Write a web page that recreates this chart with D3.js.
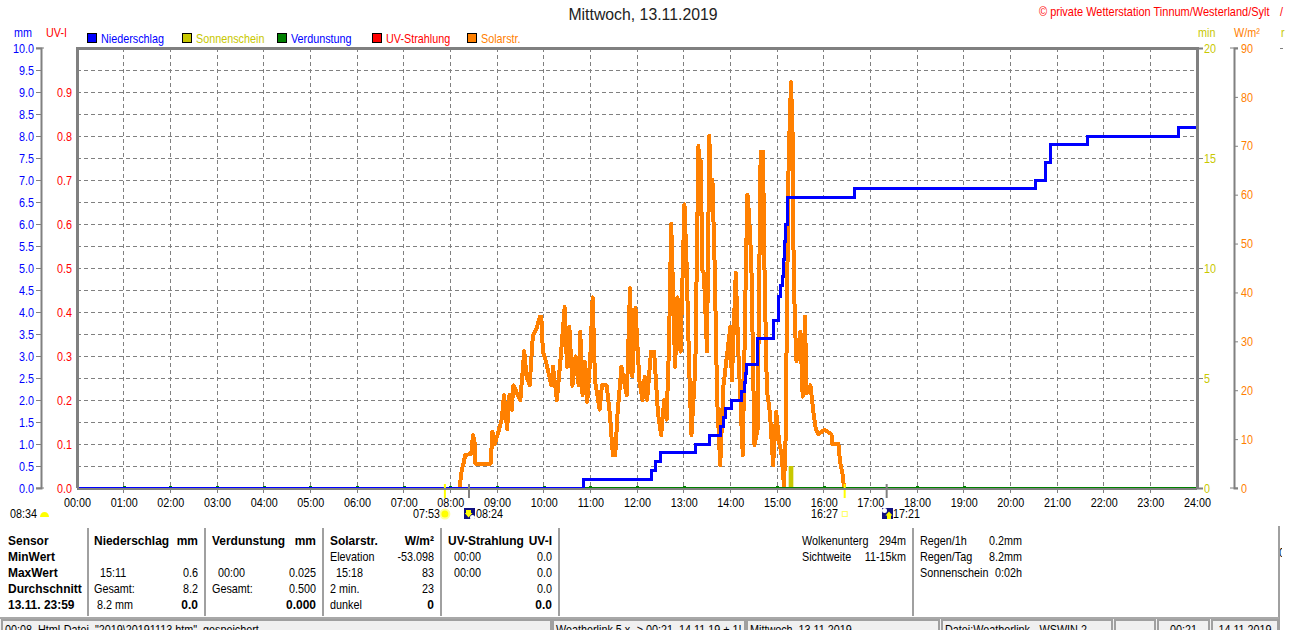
<!DOCTYPE html>
<html>
<head>
<meta charset="utf-8">
<script src="https://cdn.jsdelivr.net/npm/d3@7"></script>
<style>
  html, body { margin: 0; padding: 0; background: #fff; overflow: hidden; }
  svg { display: block; }
  text { font-family: "Liberation Sans", Arial, sans-serif; font-size: 13px; white-space: pre; }
  .axis path, .axis line { stroke: #808080; }
  .axis path { stroke-width: 2; }
  .axis text { font-size: 13px; }
</style>
</head>
<body>
<svg id="chart" width="1310" height="630"></svg>
<script>
// minutes since midnight / W per m2
const solarTimes = [492,493,495,497,499,507,509,511,512,532,534,537,541,546,549,553,556,559,561,570,575,578,582,586,591,595,597,599,603,607,610,612,617,622,627,630,633,637,641,645,647,650,653,656,660,663,666,672,675,681,685,689,692,695,700,703,707,711,714,718,723,727,730,733,738,742,744,747,751,755,758,761,764,769,772,776,781,784,787,790,795,799,801,802,804,806,810,813,815,817,820,823,827,831,834,840,842,847,850,856,860,862,864,867,871,875,879,882,884,887,891,895,899,903,906,909,911,915,918,920,921,923,925,930,933,936,938,943,947,950,953,961,970,971,979,981,985,986];
const solarValues = [0,1.6,4,5,6.7,7,10.8,9.8,5,5,11.5,9,11,14,19,12,19,16,21,18,28,22.8,21,31,32.7,35,35,28,25.8,23,21,24.8,18,26.9,37,24.8,33,20.9,26.9,21,32,19,25.8,17.6,26.9,39,22,16,21,21,15.3,6.7,6.7,15.3,24.8,22,19,40.9,22.8,36.8,22,18,22.8,18,27.9,27.9,22.8,15.3,10.8,18,14,28.2,54,24.8,39,27.9,58,44.6,25,10.8,24.8,70,56,67,44.6,44,28,72,58,63,44.6,18.4,4.7,20.7,24.8,33,22,44,29,6.7,45,60,56,46.3,8.8,11.9,68.8,68.8,44,20,15.3,4.7,15.6,9.2,6.7,0.3,9.8,67.5,83,72.6,50.7,33.7,26,32,18.7,35,19.4,21,15.3,11.9,11,11.9,11,9,9,5.4,2.3,0];

const rainTimes = [0,651,738,744,750,795,813,827,831,834,841,854,858,859,861,875,895,902,904,907,908,909,911,913,1000,1232,1245,1251,1299,1416,1440];
const rainValues = [0,0.2,0.4,0.6,0.8,1.0,1.2,1.4,1.6,1.8,2.0,2.2,2.4,2.6,2.8,3.4,3.8,4.35,4.6,4.8,5.2,5.6,6.0,6.6,6.8,7.0,7.4,7.8,8.0,8.2,8.2];

const evapHours = [1,2,3,4,5,6,7,8,9,10,11,12,13,15,16,18,19];
const evapValue = 0.025;

const sunshineTimes = [915,921];
const sunshineValue = 1;

const sunMarks = [473,987];
const moonMarks = [504,1041];

const legendLabels = ["Niederschlag","Sonnenschein","Verdunstung","UV-Strahlung","Solarstr."];
const legendFill = ["#0000ff","#c8c800","#008000","#ff0000","#ff8000"];
const legendText = ["#0000ff","#c8c800","#0000ff","#ff0000","#ff8000"];

const rowLabels = ["Sensor","MinWert","MaxWert","Durchschnitt","13.11. 23:59"];
const rainNames = ["Niederschlag","","15:11","Gesamt:","8.2 mm"];
const rainCells = ["mm","","0.6","8.2","0.0"];
const evapNames = ["Verdunstung","","00:00","Gesamt:",""];
const evapCells = ["mm","","0.025","0.500","0.000"];
const solarNames = ["Solarstr.","Elevation","15:18","2 min.","dunkel"];
const solarCells = ["W/m²","-53.098","83","23","0"];
const uvNames = ["UV-Strahlung","00:00","00:00","",""];
const uvCells = ["UV-I","0.0","0.0","0.0","0.0"];
const skyNames = ["Wolkenunterg","Sichtweite"];
const skyCells = ["294m","11-15km"];
const dayNames = ["Regen/1h","Regen/Tag","Sonnenschein"];
const dayCells = ["0.2mm","8.2mm","0:02h"];

const statusTexts = ['00:08  Html-Datei  "2019\\20191113.htm"  gespeichert',"Weatherlink 5.x -> 00:21. 14.11.19 + 1!","Mittwoch, 13.11.2019","Datei:Weatherlink - WSWIN 2","","00:21","14.11.2019"];

const plotLeft = 77, plotRight = 1197, plotTop = 48, plotBottom = 488;
const svg = d3.select("#chart");

const x = d3.scaleLinear().domain([0, 1440]).range([plotLeft, plotRight]);
const yMm = d3.scaleLinear().domain([0, 10]).range([plotBottom, plotTop]);
const yUv = d3.scaleLinear().domain([0, 1]).range([plotBottom, plotTop]);
const yMin = d3.scaleLinear().domain([0, 20]).range([plotBottom, plotTop]);
const yW = d3.scaleLinear().domain([0, 90]).range([plotBottom, plotTop]);

const hours = d3.range(0, 25);
const hourFormat = d3.format("02");

const defs = svg.append("defs");
defs.append("clipPath").attr("id", "plot")
  .append("rect").attr("x", plotLeft).attr("y", plotTop).attr("width", plotRight - plotLeft).attr("height", plotBottom - plotTop);
defs.append("clipPath").attr("id", "edge")
  .append("rect").attr("x", 1280).attr("y", 540).attr("width", 2).attr("height", 20);

// title
svg.append("text").attr("x", 643).attr("y", 20).attr("text-anchor", "middle").attr("data-sq", 0.93)
  .style("font-size", "17px").attr("fill", "#222").text("Mittwoch, 13.11.2019");
svg.append("text").attr("x", 1039).attr("y", 16).attr("fill", "#ff0000").attr("data-sq", 0.845)
  .text("© private Wetterstation Tinnum/Westerland/Sylt");
svg.append("text").attr("x", 1280).attr("y", 16).attr("fill", "#ff0000").text("/");

// unit labels
[["mm", 14, "#0000ff"], ["UV-I", 46, "#ff0000"], ["min", 1198, "#c8c800"], ["W/m²", 1234, "#ff8000"], ["r", 1281, "#c8c800"]].forEach(d => {
  svg.append("text").attr("x", d[1]).attr("y", 37).attr("fill", d[2]).text(d[0]);
});

// legend
const legendGroups = svg.selectAll("g.legend").data(legendLabels).enter().append("g")
  .attr("class", "legend")
  .attr("transform", (d, i) => "translate(" + (87.5 + i * 95) + ",33.5)");
legendGroups.append("rect").attr("width", 9).attr("height", 9)
  .attr("fill", (d, i) => legendFill[i]).attr("stroke", "#000").attr("shape-rendering", "crispEdges");
legendGroups.append("text").attr("x", 13.5).attr("y", 9).attr("fill", (d, i) => legendText[i]).text(d => d);

// grid
svg.append("g").selectAll("line").data(d3.range(0.5, 10, 0.5)).enter().append("line")
  .attr("x1", plotLeft).attr("x2", plotRight).attr("y1", d => yMm(d)).attr("y2", d => yMm(d))
  .attr("stroke", "#808080").attr("stroke-dasharray", "4,3").attr("shape-rendering", "crispEdges");
svg.append("g").selectAll("line").data(hours.slice(1, 24)).enter().append("line")
  .attr("x1", d => x(d * 60)).attr("x2", d => x(d * 60)).attr("y1", plotTop).attr("y2", plotBottom + 5)
  .attr("stroke", "#808080").attr("stroke-dasharray", "4,3").attr("shape-rendering", "crispEdges");

// series
const marks = svg.append("g").attr("clip-path", "url(#plot)");

const solarLine = d3.line().x(d => x(d)).y((d, i) => yW(solarValues[i]));
marks.append("path").attr("d", solarLine(solarTimes)).attr("fill", "none")
  .attr("stroke", "#ff8000").attr("stroke-width", 4).attr("stroke-linejoin", "round")
  .attr("shape-rendering", "crispEdges");

marks.append("rect").attr("x", x(sunshineTimes[0])).attr("y", yMin(sunshineValue))
  .attr("width", x(sunshineTimes[1]) - x(sunshineTimes[0])).attr("height", yMin(0) - yMin(sunshineValue))
  .attr("fill", "#c8c800");

marks.append("line").attr("x1", plotLeft).attr("x2", plotRight).attr("y1", yMm(0) - 0.5).attr("y2", yMm(0) - 0.5)
  .attr("stroke", "#008000").attr("stroke-width", 1);
marks.selectAll("rect.evap").data(evapHours).enter().append("rect").attr("class", "evap")
  .attr("x", d => x(d * 60) - 1).attr("y", yMm(evapValue) - 1).attr("width", 3).attr("height", 3)
  .attr("fill", "#008000").attr("shape-rendering", "crispEdges");

const rainLine = d3.line().curve(d3.curveStepAfter).x(d => x(d)).y((d, i) => yMm(rainValues[i]));
marks.append("path").attr("d", rainLine(rainTimes)).attr("fill", "none")
  .attr("stroke", "#0000ff").attr("stroke-width", 3).attr("shape-rendering", "crispEdges");

// sun and moon time bars
svg.selectAll("rect.sunbar").data(sunMarks).enter().append("rect").attr("class", "sunbar")
  .attr("x", d => x(d) - 1).attr("y", 484).attr("width", 2).attr("height", 14).attr("fill", "#ffff00");
svg.selectAll("rect.moonbar").data(moonMarks).enter().append("rect").attr("class", "moonbar")
  .attr("x", d => x(d) - 1).attr("y", 484).attr("width", 2).attr("height", 14).attr("fill", "#808080");

// plot frame
svg.append("path").attr("d", "M" + plotLeft + "," + plotBottom + "V" + plotTop + "H" + plotRight + "V" + plotBottom)
  .attr("fill", "none").attr("stroke", "#808080").attr("stroke-width", 3).attr("shape-rendering", "crispEdges");
svg.append("line").attr("x1", plotLeft).attr("x2", plotRight).attr("y1", plotBottom + 1).attr("y2", plotBottom + 1)
  .attr("stroke", "#808080").attr("stroke-width", 2).attr("shape-rendering", "crispEdges");

// axes
svg.append("g").attr("class", "axis").attr("transform", "translate(41,0)").attr("color", "#0000ff")
  .call(d3.axisLeft(yMm).tickValues(d3.range(0, 10.5, 0.5)).tickFormat(d3.format(".1f")).tickSize(5).tickPadding(2));
svg.append("g").attr("class", "axis uv").attr("transform", "translate(" + (plotLeft - 5) + ",0)").attr("color", "#ff0000")
  .call(d3.axisLeft(yUv).tickValues(d3.range(0, 1, 0.1)).tickFormat(d3.format(".1f")).tickSize(0).tickPadding(0));
svg.select(".uv path").remove();
svg.append("g").attr("class", "axis").attr("transform", "translate(" + plotRight + ",0)").attr("color", "#c8c800")
  .call(d3.axisRight(yMin).tickValues([0, 5, 10, 15, 20]).tickSize(6).tickPadding(1));
svg.append("g").attr("class", "axis").attr("transform", "translate(1234,0)").attr("color", "#ff8000")
  .call(d3.axisRight(yW).tickValues(d3.range(0, 100, 10)).tickSize(4).tickPadding(3));
[[36, 44], [1230, 1238]].forEach(d => {
  [plotTop, plotBottom].forEach(y => {
    svg.append("line").attr("x1", d[0]).attr("x2", d[1]).attr("y1", y).attr("y2", y).attr("stroke", "#808080");
  });
});
svg.append("g").attr("class", "axis").attr("transform", "translate(0," + (plotBottom + 6) + ")")
  .call(d3.axisBottom(x).tickValues(hours.map(d => d * 60)).tickSize(0).tickPadding(4)
    .tickFormat(d => hourFormat(d / 60) + ":00"))
  .call(g => g.select("path").remove())
  .selectAll("text").attr("fill", "#000");

// sun and moon captions
const captions = [["08:34", 10, "start"], ["07:53", 440, "end"], ["08:24", 476, "start"], ["16:27", 838, "end"], ["17:21", 893, "start"]];
svg.selectAll("text.cap").data(captions).enter().append("text").attr("class", "cap")
  .attr("x", d => d[1]).attr("y", 518).attr("text-anchor", d => d[2]).text(d => d[0]);

svg.append("path").attr("d", "M40,517a4.5,5 0 0 1 9,0z").attr("fill", "#ffff00");
svg.append("circle").attr("cx", x(sunMarks[0])).attr("cy", 514).attr("r", 5.5).attr("fill", "#ffff99");
svg.append("circle").attr("cx", x(sunMarks[0])).attr("cy", 514).attr("r", 3.5).attr("fill", "#ffff00");
svg.append("rect").attr("x", x(sunMarks[1]) - 2.5).attr("y", 511.5).attr("width", 5).attr("height", 5)
  .attr("fill", "#fff").attr("stroke", "#ffff66");

[[464, 508, true], [882, 508, false]].forEach(d => {
  const g = svg.append("g").attr("transform", "translate(" + d[0] + "," + d[1] + ")");
  g.append("rect").attr("width", 11).attr("height", 11).attr("fill", "#101080");
  if (d[2]) {
    g.append("circle").attr("cx", 8.5).attr("cy", 9.5).attr("r", 2.5).attr("fill", "#fff");
    g.append("path").attr("d", "M2,2H7V5H8.5L4.5,9.5L0.8,5H2z").attr("fill", "#ffff00");
  } else {
    g.append("circle").attr("cx", 2.5).attr("cy", 2.5).attr("r", 2.5).attr("fill", "#fff");
    g.append("path").attr("d", "M7,3.5L10.5,7.5H9V11H5V7.5H3.5z").attr("fill", "#ffff00");
  }
});

// table below the chart
const rowY = i => 545 + i * 16;
function column(names, anchor, px, bold) {
  svg.append("g").selectAll("text").data(names).enter().append("text")
    .attr("x", (d, i) => typeof px === "function" ? px(i) : px)
    .attr("y", (d, i) => rowY(i))
    .attr("text-anchor", anchor)
    .attr("class", (d, i) => bold(i) ? "heavy" : null)
    .style("font-weight", (d, i) => bold(i) ? "bold" : "normal")
    .attr("fill", "#000")
    .text(d => d);
}
const firstOnly = i => i === 0;
const edges = i => i === 0 || i === 4;
column(rowLabels, "start", 8, () => true);
column(rainNames, "start", i => (i === 2 ? 100 : i === 4 ? 97 : 94), firstOnly);
column(rainCells, "end", 198, edges);
column(evapNames, "start", i => (i === 2 ? 218 : 212), firstOnly);
column(evapCells, "end", 316, edges);
column(solarNames, "start", i => (i === 2 ? 336 : 330), firstOnly);
column(solarCells, "end", 434, edges);
column(uvNames, "start", i => (i === 0 ? 448 : 454), firstOnly);
column(uvCells, "end", 552, edges);
column(skyNames, "start", 802, () => false);
column(skyCells, "end", 906, () => false);
column(dayNames, "start", 920, () => false);
column(dayCells, "end", 1022, () => false);

svg.append("g").selectAll("line").data([88, 205, 323, 441, 559, 913]).enter().append("line")
  .attr("x1", d => d).attr("x2", d => d).attr("y1", 528).attr("y2", 616)
  .attr("stroke", "#a0a0a0").attr("stroke-width", 1.5).attr("shape-rendering", "crispEdges");
svg.append("line").attr("x1", 1279).attr("x2", 1279).attr("y1", 526).attr("y2", 630)
  .attr("stroke", "#a0a0a0").attr("stroke-width", 1.5).attr("shape-rendering", "crispEdges");
svg.append("text").attr("x", 1279).attr("y", 557).attr("clip-path", "url(#edge)").text("0");
svg.append("line").attr("x1", 1280).attr("x2", 1283).attr("y1", 48.5).attr("y2", 48.5).attr("stroke", "#808080");

// status bar
const statusStarts = [2, 553, 747, 942, 1115, 1158, 1212];
const statusEnds = [551, 745, 939, 1112, 1155, 1209, 1278];
svg.append("rect").attr("x", 0).attr("y", 617).attr("width", 1279).attr("height", 13).attr("fill", "#f0f0f0");
svg.append("line").attr("x1", 0).attr("x2", 1279).attr("y1", 618).attr("y2", 618)
  .attr("stroke", "#a8a8a8").attr("stroke-width", 2).attr("shape-rendering", "crispEdges");
const statusGroups = svg.selectAll("g.status").data(statusTexts).enter().append("g").attr("class", "status");
statusGroups.append("path")
  .attr("d", (d, i) => "M" + statusStarts[i] + ",630V620H" + statusEnds[i] + "V630")
  .attr("fill", "none").attr("stroke", "#a0a0a0").attr("stroke-width", 2).attr("shape-rendering", "crispEdges");
statusGroups.append("text")
  .attr("x", (d, i) => (i > 4 ? (statusStarts[i] + statusEnds[i]) / 2 : statusStarts[i] + 3))
  .attr("y", 634)
  .attr("text-anchor", (d, i) => (i > 4 ? "middle" : "start"))
  .text(d => d);

// the original font is a narrow one, squeeze the text to the same widths
svg.selectAll("text").each(function() {
  const t = d3.select(this);
  if (!t.text()) return;
  const sq = t.attr("data-sq") || (t.classed("heavy") ? 0.92 : 0.83);
  t.attr("textLength", this.getComputedTextLength() * sq).attr("lengthAdjust", "spacingAndGlyphs");
});
</script>
</body>
</html>
